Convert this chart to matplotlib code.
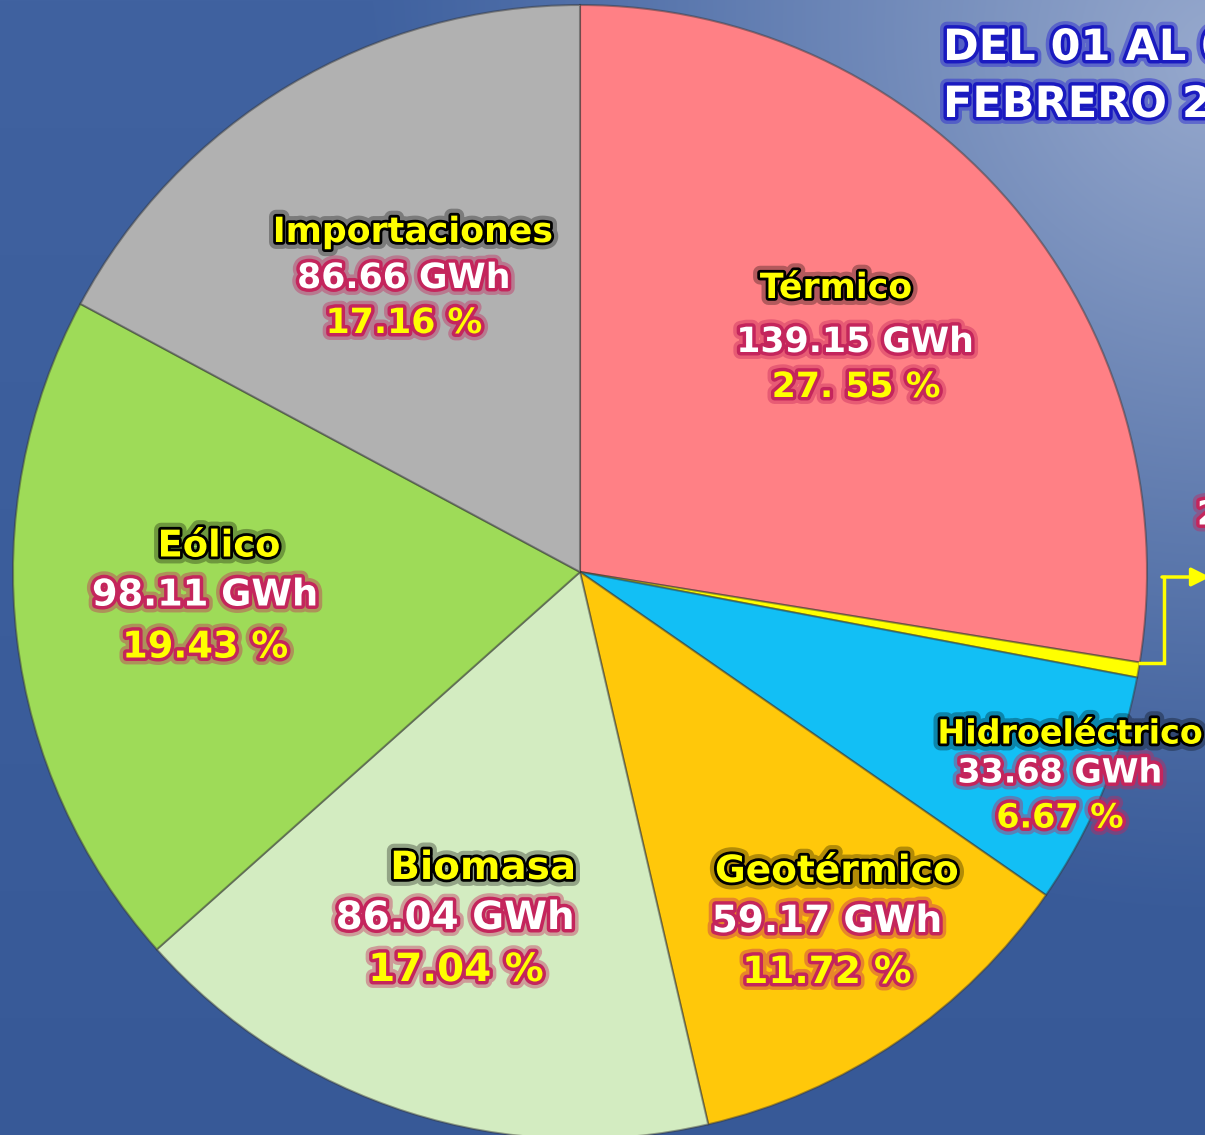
import numpy as np
import matplotlib.pyplot as plt
import matplotlib.patheffects as pe

# Datos (GWh y %) por fuente de generacion
fuentes = ['Térmico', 'Solar', 'Hidroeléctrico', 'Geotérmico', 'Biomasa', 'Eólico', 'Importaciones']
gwh = [139.15, 2.17, 33.68, 59.17, 86.04, 98.11, 86.66]
porcentaje = [27.55, 0.43, 6.67, 11.72, 17.04, 19.43, 17.16]
pct_txt = ['27. 55 %', '0.43 %', '6.67 %', '11.72 %', '17.04 %', '19.43 %', '17.16 %']
colores = ['#ff8085', '#ffff00', '#12bff5', '#ffc80a', '#d3ecc1', '#9edb58', '#b1b1b1']

W, H = 1205, 1135

fig = plt.figure(figsize=(W / 100, H / 100), dpi=100)
ax = fig.add_axes([0, 0, 1, 1])

# fondo degradado azul (mas claro arriba a la derecha)
yy, xx = np.mgrid[0:H, 0:W]
base = np.array([64, 98, 160]) / 255
claro = np.array([152, 170, 206]) / 255
d = np.sqrt((xx - 1220) ** 2 + (yy - 60) ** 2)
t = np.clip(1 - d / 850, 0, 1) ** 1.15
bg = base[None, None, :] + (claro - base)[None, None, :] * t[..., None]
bg -= (yy / H * 0.035)[..., None]
ax.imshow(np.clip(bg, 0, 1), extent=[0, W, 0, H], origin='upper', zorder=0)

# pastel
cx, cy, r = 580, H - 572, 567
ax.pie(porcentaje, colors=colores, startangle=90, counterclock=False,
       center=(cx, cy), radius=r, frame=True,
       wedgeprops=dict(edgecolor=(0.2, 0.2, 0.2, 0.45), linewidth=1.5, zorder=2))

ax.set_xlim(0, W)
ax.set_ylim(0, H)
ax.set_aspect('equal')
ax.axis('off')

glow_negro = [pe.withStroke(linewidth=10, foreground='black', alpha=0.3),
              pe.withStroke(linewidth=4, foreground='black')]
glow_rojo = [pe.withStroke(linewidth=10, foreground='#c4255c', alpha=0.4),
             pe.withStroke(linewidth=5, foreground='#c4255c')]
glow_azul = [pe.withStroke(linewidth=10, foreground='#3030d0', alpha=0.5),
             pe.withStroke(linewidth=5, foreground='#1a1ac0')]

# posiciones de etiquetas (px) y tamanos
etiquetas = {
    'Térmico': ((836, 288), (855, 342), (856, 387), 25),
    'Hidroeléctrico': ((1070, 734), (1060, 773), (1060, 818), 24),
    'Geotérmico': ((837, 872), (827, 922), (827, 973), 27),
    'Biomasa': ((483, 868), (455, 918), (456, 970), 28),
    'Eólico': ((219, 546), (205, 595), (205, 647), 26.5),
    'Importaciones': ((413, 232), (404, 278), (404, 323), 25),
}

for i, nombre in enumerate(fuentes):
    if nombre not in etiquetas:
        continue
    (lx, ly), (vx, vy), (px, py), fs = etiquetas[nombre]
    ax.text(lx, H - ly, nombre, fontsize=fs, fontweight='bold', color='#ffff00',
            ha='center', va='center', path_effects=glow_negro, zorder=5)
    ax.text(vx, H - vy, f'{gwh[i]:.2f} GWh', fontsize=fs, fontweight='bold', color='white',
            ha='center', va='center', path_effects=glow_rojo, zorder=5)
    ax.text(px, H - py, pct_txt[i], fontsize=fs, fontweight='bold', color='#ffff00',
            ha='center', va='center', path_effects=glow_rojo, zorder=5)

# etiqueta solar (fuera del cuadro, con flecha)
ax.plot([1140, 1164, 1164], [H - 663, H - 663, H - 577], color='#ffff00', lw=2.5, zorder=4,
        solid_joinstyle='miter')
ax.annotate('', xy=(1210, H - 577), xytext=(1162, H - 577), annotation_clip=False,
            arrowprops=dict(arrowstyle='-|>', color='#ffff00', lw=2.5, mutation_scale=28,
                            shrinkA=0, shrinkB=0), zorder=4)
ax.text(1197, H - 515, f'{gwh[1]:.2f} GWh', fontsize=24, fontweight='bold', color='white',
        ha='left', va='center', path_effects=glow_rojo, zorder=5)

# titulo
ax.text(943, H - 48, 'DEL 01 AL 07 DE', fontsize=31, color='white', fontweight='bold',
        ha='left', va='center', path_effects=glow_azul, zorder=5)
ax.text(943, H - 105, 'FEBRERO 2021', fontsize=31, color='white', fontweight='bold',
        ha='left', va='center', path_effects=glow_azul, zorder=5)

fig.savefig('out.png', dpi=100)
